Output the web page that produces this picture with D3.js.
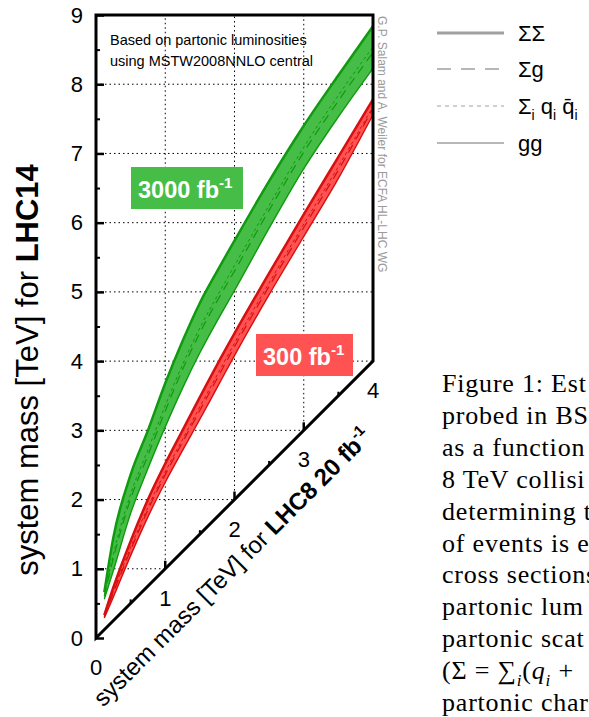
<!DOCTYPE html>
<html>
<head>
<meta charset="utf-8">
<script src="https://cdn.jsdelivr.net/npm/d3@7/dist/d3.min.js"></script>
<style>
  body { margin: 0; background: #fff; }
  svg { display: block; font-family: "Liberation Sans", Arial, Helvetica, sans-serif; }
</style>
</head>
<body>
<div id="chart"></div>
<script>
// LHC8 system mass [TeV] (x axis, along the diagonal)
const lhc8Mass = [0.12, 0.25, 0.5, 0.75, 1, 1.25, 1.5, 1.75, 2, 2.5, 3, 3.5, 4];

// equivalent LHC14 mass [TeV], 3000 fb-1
const hl_SigmaSigma = [0.66, 1.45, 2.36, 3.0, 3.68, 4.29, 4.84, 5.30, 5.74, 6.6, 7.4, 8.13, 8.84];
const hl_SigmaG = [0.60, 1.15, 2.01, 2.64, 3.28, 3.88, 4.41, 4.87, 5.30, 6.18, 7.02, 7.76, 8.46];
const hl_QQbar = [0.61, 1.21, 2.08, 2.72, 3.36, 3.95, 4.48, 4.94, 5.38, 6.25, 7.09, 7.84, 8.54];
const hl_GG = [0.56, 0.97, 1.80, 2.45, 3.05, 3.61, 4.12, 4.58, 5.02, 5.92, 6.78, 7.53, 8.23];

// equivalent LHC14 mass [TeV], 300 fb-1
const lhc_SigmaSigma = [0.33, 0.73, 1.40, 2.00, 2.52, 3.00, 3.48, 3.95, 4.40, 5.27, 6.12, 6.95, 7.78];
const lhc_SigmaG = [0.31, 0.65, 1.27, 1.85, 2.36, 2.83, 3.29, 3.75, 4.21, 5.08, 5.93, 6.76, 7.65];
const lhc_QQbar = [0.31, 0.67, 1.31, 1.89, 2.40, 2.87, 3.34, 3.80, 4.26, 5.13, 5.98, 6.81, 7.68];
const lhc_GG = [0.29, 0.59, 1.19, 1.75, 2.25, 2.71, 3.16, 3.62, 4.08, 4.96, 5.80, 6.64, 7.56];

const yTicks = [0, 1, 2, 3, 4, 5, 6, 7, 8, 9];
const xTicks = [0, 1, 2, 3, 4];
const legendLabels = ["ΣΣ", "Σg", "qq", "gg"];
const paperLines = ["Figure 1: Est", "probed in BS", "as a function", "8 TeV collisi",
    "determining t", "of events is e", "cross sections", "partonic lum",
    "partonic scat", "sum", "partonic char"];

let width = 589, height = 717;

let svg = d3.select("#chart").append("svg")
    .attr("width", width)
    .attr("height", height);

let x = d3.scaleLinear().domain([0, 4]).range([96, 373]);
let y = d3.scaleLinear().domain([0, 9]).range([638, 15]);

// grid
let grid = svg.append("g")
    .attr("stroke", "#000")
    .attr("stroke-width", 1)
    .attr("stroke-dasharray", "1.5,3");
grid.selectAll("line.h").data(d3.range(1, 9)).enter().append("line")
    .attr("x1", x(0)).attr("x2", d => x(Math.min(d, 4)))
    .attr("y1", d => y(d)).attr("y2", d => y(d));
grid.selectAll("line.v").data([1, 2, 3]).enter().append("line")
    .attr("x1", d => x(d)).attr("x2", d => x(d))
    .attr("y1", d => y(d)).attr("y2", y(9));

// bands
let drawBand = function(upper, lower, series, fill, stroke) {
    let g = svg.append("g");
    let area = d3.area()
        .x((d, i) => x(lhc8Mass[i]))
        .y0((d, i) => y(lower[i]))
        .y1(d => y(d))
        .curve(d3.curveMonotoneX);
    g.append("path").datum(upper)
        .attr("d", area)
        .attr("fill", fill);
    let line = d3.line()
        .x((d, i) => x(lhc8Mass[i]))
        .y(d => y(d))
        .curve(d3.curveMonotoneX);
    series.forEach(s => {
        g.append("path").datum(s.values)
            .attr("d", line)
            .attr("fill", "none")
            .attr("stroke", stroke)
            .attr("stroke-width", s.width)
            .attr("stroke-dasharray", s.dash);
    });
};

drawBand(hl_SigmaSigma, hl_GG, [
    {values: hl_SigmaSigma, width: 2.5, dash: null},
    {values: hl_SigmaG, width: 1.2, dash: "9,6"},
    {values: hl_QQbar, width: 1, dash: "3,3"},
    {values: hl_GG, width: 1.4, dash: null}
], "#46bd46", "#0f9a0f");

drawBand(lhc_SigmaSigma, lhc_GG, [
    {values: lhc_SigmaSigma, width: 2.5, dash: null},
    {values: lhc_SigmaG, width: 1.2, dash: "9,6"},
    {values: lhc_QQbar, width: 1, dash: "3,3"},
    {values: lhc_GG, width: 1.4, dash: null}
], "#ff5252", "#d80f0f");

// y axis (ticks pointing inward)
svg.append("g")
    .attr("transform", "translate(" + x(0) + ",0)")
    .call(d3.axisLeft(y).tickValues(d3.range(0.5, 9, 1)).tickSize(-4).tickFormat(""))
    .call(g => g.select(".domain").remove())
    .selectAll("line").attr("stroke-width", 2);
svg.append("g")
    .attr("transform", "translate(" + x(0) + ",0)")
    .call(d3.axisLeft(y).tickValues(yTicks).tickSizeInner(-8).tickSizeOuter(0).tickPadding(13))
    .call(g => g.select(".domain").remove())
    .call(g => g.selectAll("line").attr("stroke-width", 2.5))
    .call(g => g.selectAll("text")
        .attr("font-size", 22)
        .attr("font-family", "Liberation Sans, Arial, sans-serif"));

// diagonal x axis ticks
svg.selectAll("line.xminor").data(d3.range(0.5, 4, 1)).enter().append("line")
    .attr("x1", d => x(d)).attr("x2", d => x(d))
    .attr("y1", d => y(d)).attr("y2", d => y(d) - 4)
    .attr("stroke", "#000").attr("stroke-width", 2);
svg.selectAll("line.xmajor").data([1, 2, 3]).enter().append("line")
    .attr("x1", d => x(d)).attr("x2", d => x(d))
    .attr("y1", d => y(d)).attr("y2", d => y(d) - 8)
    .attr("stroke", "#000").attr("stroke-width", 2.5);
svg.selectAll("text.xlab").data(xTicks).enter().append("text")
    .attr("x", d => x(d))
    .attr("y", d => y(d) + 37)
    .attr("text-anchor", "middle")
    .attr("font-size", 22)
    .text(d => d);

// frame
svg.append("path")
    .attr("d", "M" + x(0) + "," + y(0) + "L" + x(0) + "," + y(9) + "L" + x(4) + "," + y(9) +
        "L" + x(4) + "," + y(4) + "Z")
    .attr("fill", "none")
    .attr("stroke", "#000")
    .attr("stroke-width", 3)
    .attr("stroke-linejoin", "miter");

// annotation
svg.append("text").attr("x", 110).attr("y", 45).attr("font-size", 14.5)
    .text("Based on partonic luminosities");
svg.append("text").attr("x", 110).attr("y", 66).attr("font-size", 14.5)
    .text("using MSTW2008NNLO central");

svg.append("text")
    .attr("transform", "translate(378,16) rotate(90)")
    .attr("font-size", 12)
    .attr("fill", "#9a9a9a")
    .text("G.P. Salam and A. Weiler for ECFA HL-LHC WG");

// luminosity labels
let lumiLabel = function(x0, y0, w, h, fill, main) {
    svg.append("rect").attr("x", x0).attr("y", y0).attr("width", w).attr("height", h)
        .attr("fill", fill);
    let t = svg.append("text")
        .attr("x", x0 + 7).attr("y", y0 + 31)
        .attr("fill", "#fff")
        .attr("font-weight", "bold")
        .attr("font-size", 23.5);
    t.append("tspan").text(main);
    t.append("tspan").attr("dy", -10).attr("font-size", 15).text("-1");
};
lumiLabel(131, 167, 112, 42, "#46bd46", "3000 fb");
lumiLabel(256, 334, 97, 42, "#ff5252", "300 fb");

// axis titles
let yt = svg.append("text")
    .attr("transform", "translate(38,370) rotate(-90)")
    .attr("text-anchor", "middle")
    .attr("font-size", 31);
yt.append("tspan").text("system mass [TeV] for ");
yt.append("tspan").attr("font-weight", "bold").text("LHC14");

let xt = svg.append("text")
    .attr("transform", "translate(238,573) rotate(-45)")
    .attr("text-anchor", "middle")
    .attr("font-size", 24);
xt.append("tspan").text("system mass [TeV] for ");
xt.append("tspan").attr("font-weight", "bold").text("LHC8 20 fb");
xt.append("tspan").attr("font-weight", "bold").attr("dy", -10).attr("font-size", 15).text("-1");

// legend
let legendStyle = [
    {width: 3, dash: null},
    {width: 1.3, dash: "14,10"},
    {width: 1, dash: "4,4"},
    {width: 1.3, dash: null}
];
let legendY = [33, 69, 106, 143];
let leg = svg.append("g");
legendLabels.forEach((lab, i) => {
    leg.append("line")
        .attr("x1", 437).attr("x2", 504)
        .attr("y1", legendY[i]).attr("y2", legendY[i])
        .attr("stroke", "#a0a0a0")
        .attr("stroke-width", legendStyle[i].width)
        .attr("stroke-dasharray", legendStyle[i].dash);
    let t = leg.append("text")
        .attr("x", 518).attr("y", legendY[i] + 8)
        .attr("font-size", 22);
    if (lab === "qq") {
        t.append("tspan").text("Σ");
        t.append("tspan").attr("dy", 6).attr("font-size", 14).text("i");
        t.append("tspan").attr("dy", -6).text(" q");
        t.append("tspan").attr("dy", 6).attr("font-size", 14).text("i");
        t.append("tspan").attr("dy", -6).text(" q\u0304");
        t.append("tspan").attr("dy", 6).attr("font-size", 14).text("i");
    } else {
        t.text(lab);
    }
});

// cropped caption of the page
let cap = svg.append("g")
    .attr("font-family", "Liberation Serif, Times New Roman, serif")
    .attr("font-size", 26)
    .attr("letter-spacing", 0.8);
paperLines.forEach((d, i) => {
    let t = cap.append("text")
        .attr("x", 442)
        .attr("y", 392 + i * 31.9);
    if (d === "sum") {
        t.append("tspan").text("(Σ = ∑");
        t.append("tspan").attr("dy", 7).attr("font-size", 17).attr("font-style", "italic").text("i");
        t.append("tspan").attr("dy", -7).text("(");
        t.append("tspan").attr("font-style", "italic").text("q");
        t.append("tspan").attr("dy", 7).attr("font-size", 17).attr("font-style", "italic").text("i");
        t.append("tspan").attr("dy", -7).text(" +");
    } else {
        t.text(d);
    }
});
</script>
</body>
</html>
